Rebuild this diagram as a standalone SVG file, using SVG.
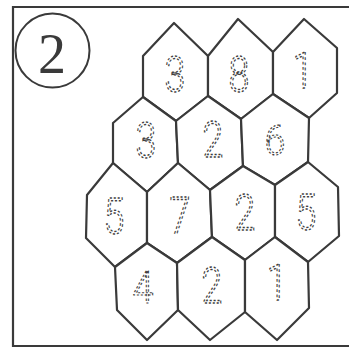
<svg xmlns="http://www.w3.org/2000/svg" width="349" height="350" viewBox="0 0 349 350">
<style>
.hex{fill:#fff;stroke:#3a3a3a;stroke-width:2.2;stroke-linejoin:round}
.num{font-family:Roboto,"Liberation Sans",sans-serif;font-size:50px;font-weight:300;text-anchor:middle;fill:none;stroke:#404040;stroke-width:1.4;stroke-dasharray:2.8 2.4}
.frame{fill:none;stroke:#3a3a3a;stroke-width:2.2}
</style>
<rect width="349" height="350" fill="#fff"/>
<path class="frame" d="M349,7 L13,7 L13,346 L349,346"/>
<g id="badge">
<circle cx="52.5" cy="50.5" r="37" fill="none" stroke="#3a3a3a" stroke-width="2"/>
<text x="52" y="73" font-family="Liberation Serif,'Times New Roman',serif" font-size="56" text-anchor="middle" fill="#3a3a3a">2</text>
</g>
<g id="hexes">
<g id="hex-r1-1"><polygon class="hex" points="174,23 208,56 208,96 176,121 143,97 143,56"/><text class="num" transform="translate(175,92) scale(0.75,1)">3</text></g>
<g id="hex-r1-2"><polygon class="hex" points="238,19 273,52 273,94 241,119 208,96 208,56"/><text class="num" transform="translate(239,92) scale(0.75,1)">8</text></g>
<g id="hex-r1-3"><polygon class="hex" points="304,19 337,48 337,93 309,118 273,94 273,52"/><text class="num" transform="translate(303,88) scale(0.75,1)">1</text></g>
<g id="hex-r2-1"><polygon class="hex" points="143,97 176,121 178,163 147,192 113,163 113,123"/><text class="num" transform="translate(146,158) scale(0.75,1)">3</text></g>
<g id="hex-r2-2"><polygon class="hex" points="208,96 241,119 243,166 210,190 178,163 176,121"/><text class="num" transform="translate(213,157) scale(0.75,1)">2</text></g>
<g id="hex-r2-3"><polygon class="hex" points="273,94 309,118 308,162 275,185 243,166 241,119"/><text class="num" transform="translate(275,155) scale(0.75,0.85)">6</text></g>
<g id="hex-r3-1"><polygon class="hex" points="113,163 147,192 147,243 115,267 86,238 87,195"/><text class="num" transform="translate(114,234) scale(0.75,1)">5</text></g>
<g id="hex-r3-2"><polygon class="hex" points="178,163 210,190 212,237 177,263 147,243 147,192"/><text class="num" transform="translate(180,233) scale(0.75,1)">7</text></g>
<g id="hex-r3-3"><polygon class="hex" points="243,166 275,185 275,237 245,260 212,237 210,190"/><text class="num" transform="translate(245,230) scale(0.75,1)">2</text></g>
<g id="hex-r3-4"><polygon class="hex" points="308,162 338,187 339,236 308,262 275,237 275,185"/><text class="num" transform="translate(306,230) scale(0.75,1)">5</text></g>
<g id="hex-r4-1"><polygon class="hex" points="147,243 177,263 178,310 147,340 117,310 115,267"/><text class="num" transform="translate(143,303) scale(0.75,0.88)">4</text></g>
<g id="hex-r4-2"><polygon class="hex" points="212,237 245,260 245,312 210,340 178,310 177,263"/><text class="num" transform="translate(212,303) scale(0.75,1)">2</text></g>
<g id="hex-r4-3"><polygon class="hex" points="275,237 308,262 309,308 277,340 245,312 245,260"/><text class="num" transform="translate(277,300) scale(0.75,1)">1</text></g>
</g>
<g id="connectors"/>
</svg>
